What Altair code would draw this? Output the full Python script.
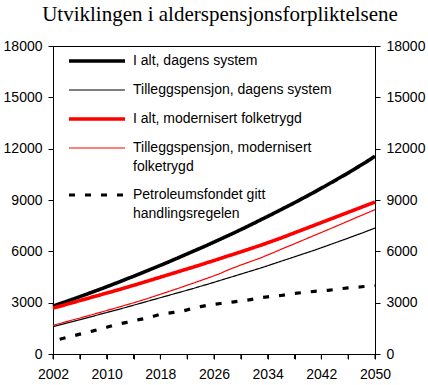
import altair as alt
import pandas as pd

years = list(range(2002, 2051))
ialt_dagens = [2800, 2940, 3070, 3210, 3350, 3490, 3640, 3780, 3930, 4080,
               4230, 4390, 4540, 4700, 4860, 5020, 5180, 5340, 5510, 5680,
               5850, 6020, 6190, 6360, 6540, 6720, 6900, 7080, 7270, 7460,
               7650, 7850, 8040, 8240, 8440, 8640, 8840, 9050, 9260, 9470,
               9690, 9910, 10130, 10360, 10580, 10820, 11060, 11300, 11560]
till_dagens = [1600, 1700, 1800, 1900, 2000, 2110, 2210, 2320, 2420, 2530,
               2630, 2740, 2850, 2960, 3070, 3180, 3290, 3400, 3510, 3620,
               3730, 3840, 3960, 4070, 4190, 4310, 4430, 4550, 4670, 4790,
               4910, 5030, 5160, 5290, 5420, 5550, 5680, 5810, 5940, 6070,
               6210, 6350, 6490, 6630, 6770, 6920, 7060, 7210, 7360]
ialt_mod = [2680, 2790, 2900, 3010, 3120, 3230, 3340, 3450, 3560, 3670,
            3780, 3900, 4010, 4130, 4250, 4370, 4490, 4610, 4730, 4850,
            4970, 5090, 5210, 5340, 5460, 5590, 5720, 5840, 5970, 6100,
            6230, 6360, 6500, 6640, 6780, 6930, 7080, 7230, 7380, 7530,
            7680, 7830, 7980, 8130, 8280, 8430, 8580, 8730, 8880]
till_mod = [1680, 1780, 1890, 2000, 2100, 2210, 2320, 2430, 2540, 2650,
            2760, 2880, 2990, 3110, 3230, 3360, 3490, 3620, 3750, 3880,
            4020, 4150, 4290, 4430, 4570, 4720, 4900, 5050, 5200, 5340,
            5480, 5620, 5790, 5950, 6120, 6280, 6440, 6610, 6770, 6940,
            7100, 7270, 7430, 7600, 7770, 7940, 8100, 8270, 8440]
petro_years = list(range(2003, 2051))
petro = [860, 960, 1060, 1160, 1260, 1350, 1450, 1560, 1680, 1770,
         1850, 1940, 2020, 2100, 2210, 2320, 2380, 2430, 2480, 2580,
         2690, 2770, 2840, 2900, 2950, 3000, 3050, 3100, 3150, 3220,
         3290, 3340, 3380, 3420, 3480, 3540, 3580, 3620, 3660, 3690,
         3720, 3770, 3820, 3860, 3890, 3930, 3960, 3990]

names = ["I alt, dagens system",
         "Tilleggspensjon, dagens system",
         "I alt, modernisert folketrygd",
         "Tilleggspensjon, modernisert|folketrygd",
         "Petroleumsfondet gitt|handlingsregelen"]
colors = ["#000000", "#000000", "#ff0000", "#ff0000", "#000000"]
widths = [3.6, 1.2, 3.6, 1.2, 3.2]
dashes = [[1, 0], [1, 0], [1, 0], [1, 0], [6, 10]]
xticks = list(range(2002, 2051, 4))
yticks = list(range(0, 18001, 3000))

series_vals = [ialt_dagens, till_dagens, ialt_mod, till_mod, petro]
series_years = [years, years, years, years, petro_years]
rows = []
for n, ys, vs in zip(names, series_years, series_vals):
    for y, v in zip(ys, vs):
        rows.append({"series": n, "year": y, "value": v, "order": names.index(n)})
df = pd.DataFrame(rows)
tick_df = pd.DataFrame({"year": xticks})

PLOT_W, PLOT_H = 322, 308

xscale = alt.Scale(domain=[2002, 2050], nice=False, zero=False)
yscale = alt.Scale(domain=[0, 18000], nice=False)
xaxis = alt.Axis(values=xticks, format="d",
                 labelExpr="(datum.value - 2002) % 8 == 0 ? datum.label : ''",
                 title=None, labelPadding=8, labelFlush=False, ticks=True,
                 tickSize=5, tickColor="#000000", tickWidth=1, tickOpacity=1,
                 domain=True, labelOverlap=False)

base = alt.Chart(df)

lines = base.mark_line(strokeCap="butt", strokeJoin="round").encode(
    x=alt.X("year:Q", scale=xscale, axis=xaxis),
    y=alt.Y("value:Q", scale=yscale,
            axis=alt.Axis(values=yticks, format="d", title=None, orient="left",
                          labelPadding=6)),
    color=alt.Color("series:N", title=None,
                    scale=alt.Scale(type="ordinal", domain=names, range=colors),
                    legend=alt.Legend(orient="none", legendX=37, legendY=8,
                                      symbolType="M-5.6,0H5.6", symbolSize=100,
                                      labelOffset=29, labelLimit=400,
                                      labelFont="Liberation Sans", labelFontSize=14,
                                      labelColor="#000000", rowPadding=14, padding=0,
                                      labelExpr="split(datum.label, '|')")),
    strokeWidth=alt.StrokeWidth("series:N", title=None,
                                scale=alt.Scale(type="ordinal", domain=names, range=widths)),
    strokeDash=alt.StrokeDash("series:N", title=None,
                              scale=alt.Scale(type="ordinal", domain=names, range=dashes)),
    order=alt.Order("order:Q"),
)

# small tick marks below the x axis, positioned by the x scale
xtick_marks = alt.Chart(tick_df).mark_rule(color="#000000", strokeWidth=1).encode(
    x=alt.X("year:Q", scale=xscale, axis=xaxis),
    y=alt.value(PLOT_H),
    y2=alt.value(PLOT_H + 5),
)

right = base.transform_filter(alt.datum.order == 0).mark_point(opacity=0).encode(
    y=alt.Y("value:Q", scale=yscale,
            axis=alt.Axis(values=yticks, format="d", title=None, orient="right",
                          labelPadding=6)),
)

chart = alt.layer(lines, xtick_marks, right).resolve_scale(y="independent").properties(
    width=PLOT_W, height=PLOT_H,
    title=alt.TitleParams("Utviklingen i alderspensjonsforpliktelsene",
                          font="Liberation Serif", fontSize=21, fontWeight="normal",
                          color="#000000", anchor="middle", offset=14, dx=6),
    autosize=alt.AutoSizeParams(type="none"),
    padding={"left": 53, "top": 46, "right": 53, "bottom": 31},
).configure_view(stroke="#000000", strokeWidth=1).configure_axis(
    labelFont="Liberation Sans", labelFontSize=14, labelColor="#000000",
    tickColor="#000000", domainColor="#000000", tickSize=5, grid=False,
    domainWidth=1, tickWidth=1,
)
chart.config.style = {"guide-label": {"lineHeight": 19}}

chart.save("out.html", embed_options={"renderer": "svg", "actions": False})
